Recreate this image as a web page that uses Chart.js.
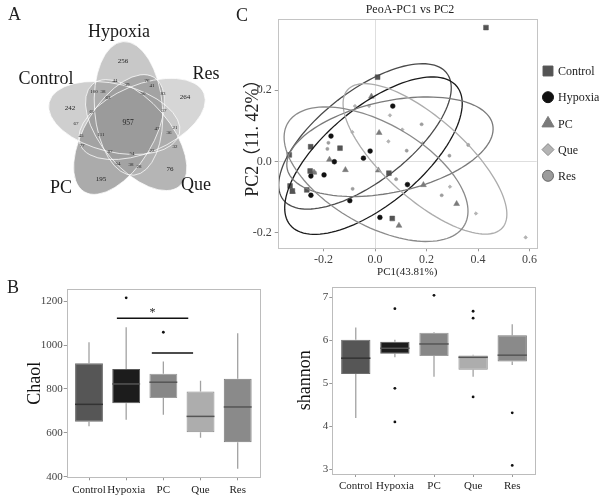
<!DOCTYPE html>
<html>
<head>
<meta charset="utf-8">
<script src="https://cdn.jsdelivr.net/npm/chart.js@4.4.0/dist/chart.umd.min.js"></script>
<style>
body { margin: 0; background: #fff; width: 599px; height: 499px; position: relative; overflow: hidden; }
canvas { position: absolute; }
.tag { position: absolute; font: 18px/18px "Liberation Serif", serif; color: #222; }
</style>
</head>
<body>
<canvas id="venn" width="240" height="262" style="left:0;top:0"></canvas>
<canvas id="pca" width="359" height="290" style="left:240px;top:0"></canvas>
<canvas id="chao" width="290" height="229" style="left:0;top:270px"></canvas>
<canvas id="shan" width="309" height="229" style="left:290px;top:270px"></canvas>
<div class="tag" style="left:8px;top:5px">A</div>
<div class="tag" style="left:236px;top:6px">C</div>
<div class="tag" style="left:7px;top:278px">B</div>
<script>
var SERIF = '"Liberation Serif", "Noto Sans CJK SC", serif';
Chart.defaults.font.family = SERIF;
Chart.defaults.color = '#444';

// ---- A: venn counts ----
var vennSets = ['Hypoxia', 'Res', 'Que', 'PC', 'Control'];
var vennSingles = [256, 264, 76, 195, 242];
var vennShared = [957, 44, 76, 100, 38, 39, 41, 63, 50, 83, 60, 37, 67, 47, 21, 111, 45, 36, 77, 32, 87, 54, 22, 54, 38, 28];

// ---- C: PCoA points ----
var pcaGroups = ['Control', 'Hypoxia', 'PC', 'Que', 'Res'];
var controlPts = [[0.431, 0.375], [0.010, 0.236], [-0.333, 0.018], [-0.250, 0.041], [-0.136, 0.037], [-0.252, -0.027],
  [-0.330, -0.069], [-0.321, -0.083], [-0.265, -0.080], [0.054, -0.033], [0.067, -0.160]];
var hypoxiaPts = [[0.069, 0.155], [-0.171, 0.071], [-0.019, 0.029], [-0.158, -0.001], [-0.045, 0.009], [-0.198, -0.038],
  [-0.249, -0.041], [-0.249, -0.095], [-0.098, -0.110], [0.019, -0.157], [0.126, -0.065]];
var pcPts = [[-0.014, 0.182], [0.016, 0.080], [-0.177, 0.005], [-0.237, -0.031], [-0.115, -0.024], [0.013, -0.025],
  [0.188, -0.066], [0.317, -0.119], [0.093, -0.180], [-0.320, -0.085]];
var quePts = [[-0.078, 0.155], [-0.023, 0.155], [0.058, 0.129], [0.106, 0.089], [0.052, 0.056], [0.185, 0.051],
  [0.291, -0.071], [0.392, -0.146], [0.585, -0.213], [-0.088, 0.082]];
var resPts = [[0.181, 0.104], [0.123, 0.030], [0.362, 0.046], [0.289, 0.016], [0.259, -0.095], [0.082, -0.050],
  [-0.087, -0.077], [-0.181, 0.052], [-0.185, 0.035], [-0.233, -0.031]];
// confidence ellipses: centre and two conjugate half axes (data units)
var ellipseCenter = [[-0.039, 0.070], [-0.006, 0.016], [0.058, 0.041], [0.194, 0.007], [0.004, -0.036]];
var ellipseAxisA = [[0.318, 0.177], [0.324, 0.194], [0.399, 0.062], [0.301, -0.193], [0.344, -0.142]];
var ellipseAxisB = [[0.106, -0.101], [0.118, -0.105], [0.037, -0.125], [-0.103, -0.085], [-0.096, -0.124]];

// ---- B: boxplots ----
var groups = ['Control', 'Hypoxia', 'PC', 'Que', 'Res'];
var chaoLow = [630, 660, 682, 577, 436];
var chaoQ1 = [650, 735, 759, 603, 557];
var chaoMed = [730, 823, 831, 675, 718];
var chaoQ3 = [918, 891, 870, 789, 847];
var chaoHigh = [1013, 1082, 925, 838, 1054];
var chaoOut = [[], [1216], [1059], [], []];
var sigFrom = [1.75, 2.69];
var sigTo = [3.67, 3.8];
var sigLevel = [1123, 964];
var sigText = ['*', ''];

var shanLow = [4.19, 5.60, 5.15, 5.15, 5.42];
var shanQ1 = [5.21, 5.68, 5.63, 5.31, 5.50];
var shanMed = [5.58, 5.81, 5.91, 5.60, 5.65];
var shanQ3 = [6.01, 5.96, 6.17, 5.64, 6.11];
var shanHigh = [6.29, 6.01, 6.19, 5.66, 6.37];
var shanOut = [[], [6.73, 4.88, 4.10], [7.04], [6.67, 6.51, 4.68], [4.31, 3.09]];

var boxFill = ['#565656', '#1c1c1c', '#878787', '#adadad', '#8a8a8a'];
var boxLine = ['#6e6e6e', '#5a5a5a', '#9c9c9c', '#8c8c8c', '#7a7a7a'];
var boxMedian = ['#333', '#555', '#555', '#555', '#555'];

// ================= Venn =================
var vennGeom = { cx: 128, cy: 123, shift: 14.6, a: 67, b: 34 };
var vennRot = [-88, -16, 56, 128, 200];
var vennTilt = -6.6;
var vennShade = ['#cdcdcd', '#dcdcdc', '#bababa', '#afafaf', '#d4d4d4'];
var vennNamePos = [[119, 32], [206, 74], [196, 185], [61, 188], [46, 79]];
var vennSinglePos = [[123, 61], [185, 97], [170, 169], [101, 179], [70, 108]];
var vennSharedPos = [[128, 123], [115, 81], [147, 81], [94, 92], [103, 92], [127, 85], [152, 86], [108, 98], [143, 94],
  [163, 94], [92, 112], [164, 111], [76, 124], [157, 129], [175, 128], [101, 135], [81, 136], [169, 133], [82, 146],
  [175, 147], [110, 152], [132, 154], [152, 151], [118, 164], [131, 165], [139, 167]];

var vennPlugin = {
  id: 'venn',
  afterDatasetsDraw: function(chart) {
    var ctx = chart.ctx, x = chart.scales.x, y = chart.scales.y;
    var g = vennGeom;
    function path(k) {
      var phi = vennRot[k] * Math.PI / 180;
      var ex = x.getPixelForValue(g.cx + g.shift * Math.cos(phi));
      var ey = y.getPixelForValue(g.cy + g.shift * Math.sin(phi));
      ctx.beginPath();
      ctx.ellipse(ex, ey, g.a, g.b, phi + vennTilt * Math.PI / 180, 0, Math.PI * 2);
    }
    ctx.save();
    ctx.globalCompositeOperation = 'darken';
    vennSets.forEach(function(s, k) { path(k); ctx.fillStyle = vennShade[k]; ctx.fill(); });
    ctx.globalCompositeOperation = 'multiply';
    vennSets.forEach(function(s, k) { path(k); ctx.fillStyle = '#f9f9f9'; ctx.fill(); });
    ctx.globalCompositeOperation = 'source-over';
    ctx.strokeStyle = 'rgba(255,255,255,0.85)';
    ctx.lineWidth = 0.9;
    vennSets.forEach(function(s, k) { path(k); ctx.stroke(); });

    ctx.textAlign = 'center';
    ctx.textBaseline = 'middle';
    ctx.fillStyle = '#222';
    ctx.font = '7px ' + SERIF;
    vennSingles.forEach(function(v, k) {
      ctx.fillText(v, x.getPixelForValue(vennSinglePos[k][0]), y.getPixelForValue(vennSinglePos[k][1]));
    });
    vennShared.forEach(function(v, k) {
      ctx.font = (k === 0 ? '7.5px ' : '5px ') + SERIF;
      ctx.fillText(v, x.getPixelForValue(vennSharedPos[k][0]), y.getPixelForValue(vennSharedPos[k][1]));
    });
    ctx.font = '18px ' + SERIF;
    ctx.fillStyle = '#1a1a1a';
    vennSets.forEach(function(s, k) {
      ctx.fillText(s, x.getPixelForValue(vennNamePos[k][0]), y.getPixelForValue(vennNamePos[k][1]));
    });
    ctx.restore();
  }
};

new Chart(document.getElementById('venn'), {
  type: 'scatter',
  data: { datasets: [{ data: [], pointRadius: 0 }] },
  options: {
    responsive: false, animation: false, events: [],
    layout: { padding: 0 },
    scales: {
      x: { display: false, min: 0, max: 240 },
      y: { display: false, min: 0, max: 262, reverse: true }
    },
    plugins: { legend: { display: false }, tooltip: { enabled: false } }
  },
  plugins: [vennPlugin]
});

// ================= PCoA =================
var pcaStyle = [
  { pts: controlPts, shape: 'rect', r: 3.4, fill: '#545454', border: '#545454', ring: '#4a4a4a', lr: 7 },
  { pts: hypoxiaPts, shape: 'circle', r: 2.4, fill: '#111', border: '#111', ring: '#1a1a1a', lr: 5.5 },
  { pts: pcPts, shape: 'triangle', r: 3.4, fill: '#7a7a7a', border: '#7a7a7a', ring: '#7a7a7a', lr: 7 },
  { pts: quePts, shape: 'rectRot', r: 1.8, fill: '#b4b4b4', border: '#a0a0a0', ring: '#acacac', lr: 6 },
  { pts: resPts, shape: 'circle', r: 1.6, fill: '#9c9c9c', border: '#9c9c9c', ring: '#8a8a8a', lr: 5.5 }
];

var pcaPlugin = {
  id: 'pcaExtra',
  afterDatasetsDraw: function(chart) {
    var ctx = chart.ctx, x = chart.scales.x, y = chart.scales.y, ca = chart.chartArea;
    ctx.save();
    // ellipses
    ctx.lineWidth = 1.3;
    ellipseCenter.forEach(function(c, k) {
      ctx.beginPath();
      for (var i = 0; i <= 120; i++) {
        var t = i / 120 * Math.PI * 2;
        var vx = c[0] + Math.cos(t) * ellipseAxisA[k][0] + Math.sin(t) * ellipseAxisB[k][0];
        var vy = c[1] + Math.cos(t) * ellipseAxisA[k][1] + Math.sin(t) * ellipseAxisB[k][1];
        var px = x.getPixelForValue(vx), py = y.getPixelForValue(vy);
        if (i === 0) ctx.moveTo(px, py); else ctx.lineTo(px, py);
      }
      ctx.strokeStyle = pcaStyle[k].ring;
      ctx.stroke();
    });
    // frame
    ctx.strokeStyle = '#c4c4c4';
    ctx.lineWidth = 1;
    ctx.strokeRect(Math.round(ca.left) + 0.5, Math.round(ca.top) + 0.5, Math.round(ca.width), Math.round(ca.height));
    // title
    ctx.fillStyle = '#222';
    ctx.font = '12px ' + SERIF;
    ctx.textAlign = 'center';
    ctx.textBaseline = 'middle';
    ctx.fillText('PeoA-PC1 vs PC2', 170, 10);
    // legend
    ctx.textAlign = 'left';
    ctx.font = '12px ' + SERIF;
    chart.data.datasets.forEach(function(ds, k) {
      var ly = 71 + k * 26.2;
      var st = pcaStyle[k];
      ctx.fillStyle = st.fill;
      ctx.strokeStyle = k === 3 ? '#8a8a8a' : (k === 4 ? '#666' : st.fill);
      ctx.lineWidth = 1;
      Chart.helpers.drawPoint(ctx, { pointStyle: st.shape, radius: st.lr, rotation: 0, borderWidth: 1 }, 308, ly);
      ctx.fillStyle = '#222';
      ctx.fillText(ds.label, 318, ly + 1);
    });
    ctx.restore();
  }
};

new Chart(document.getElementById('pca'), {
  type: 'scatter',
  data: {
    datasets: pcaGroups.map(function(name, k) {
      var st = pcaStyle[k];
      return {
        label: name,
        data: st.pts.map(function(p) { return { x: p[0], y: p[1] }; }),
        pointStyle: st.shape, pointRadius: st.r,
        backgroundColor: st.fill, borderColor: st.border, borderWidth: 0.5
      };
    })
  },
  options: {
    responsive: false, animation: false, events: [],
    layout: { padding: { left: 0, right: 62.3, top: 19, bottom: 0 } },
    scales: {
      x: {
        type: 'linear', min: -0.378, max: 0.628,
        afterFit: function(s) { s.height = 41.7; },
        ticks: { stepSize: 0.2, includeBounds: false, padding: 1, color: '#444', font: { size: 12 },
          callback: function(v) { return v.toFixed(1); } },
        grid: { color: function(c) { return c.tick && Math.abs(c.tick.value) < 1e-9 ? '#dedede' : 'rgba(0,0,0,0)'; },
          tickColor: '#999', tickLength: 3 },
        border: { display: false },
        title: { display: true, text: 'PC1(43.81%)', color: '#222', font: { size: 11 }, padding: { top: 0, bottom: 11.4 } }
      },
      y: {
        type: 'linear', min: -0.2436, max: 0.399,
        afterFit: function(s) { s.width = 37.7; },
        ticks: { stepSize: 0.2, includeBounds: false, padding: 3, color: '#444', font: { size: 12 },
          callback: function(v) { return v.toFixed(1); } },
        grid: { color: function(c) { return c.tick && Math.abs(c.tick.value) < 1e-9 ? '#dedede' : 'rgba(0,0,0,0)'; },
          tickColor: '#999', tickLength: 3 },
        border: { display: false },
        title: { display: true, text: 'PC2（11. 42%）', color: '#222', font: { size: 18 }, padding: { top: 2.2, bottom: 0 } }
      }
    },
    plugins: { legend: { display: false }, tooltip: { enabled: false } }
  },
  plugins: [pcaPlugin]
});

// ================= boxplots =================
function makeBox(id, stats, yr, geom) {
  var boxPlugin = {
    id: 'box_' + id,
    beforeDatasetsDraw: function(chart) {
      var ctx = chart.ctx, x = chart.scales.x, y = chart.scales.y;
      ctx.save();
      ctx.lineWidth = 1.3;
      ctx.strokeStyle = '#a2a2a2';
      groups.forEach(function(g, i) {
        var px = x.getPixelForValue(i + 1);
        ctx.beginPath();
        ctx.moveTo(px, y.getPixelForValue(stats.low[i]));
        ctx.lineTo(px, y.getPixelForValue(stats.q1[i]));
        ctx.moveTo(px, y.getPixelForValue(stats.q3[i]));
        ctx.lineTo(px, y.getPixelForValue(stats.high[i]));
        ctx.stroke();
      });
      ctx.restore();
    },
    afterDatasetsDraw: function(chart) {
      var ctx = chart.ctx, x = chart.scales.x, y = chart.scales.y, ca = chart.chartArea;
      var meta = chart.getDatasetMeta(0);
      ctx.save();
      ctx.lineWidth = 1.5;
      meta.data.forEach(function(bar, i) {
        var py = y.getPixelForValue(stats.med[i]);
        ctx.strokeStyle = boxMedian[i];
        ctx.beginPath();
        ctx.moveTo(bar.x - bar.width / 2, py);
        ctx.lineTo(bar.x + bar.width / 2, py);
        ctx.stroke();
      });
      if (stats.sig) {
        ctx.strokeStyle = '#111';
        ctx.fillStyle = '#222';
        ctx.lineWidth = 1.5;
        ctx.font = '12px ' + SERIF;
        ctx.textAlign = 'center';
        ctx.textBaseline = 'middle';
        stats.sig.from.forEach(function(f, k) {
          var py = y.getPixelForValue(stats.sig.level[k]);
          var x0 = x.getPixelForValue(f), x1 = x.getPixelForValue(stats.sig.to[k]);
          ctx.beginPath(); ctx.moveTo(x0, py); ctx.lineTo(x1, py); ctx.stroke();
          if (stats.sig.text[k]) ctx.fillText(stats.sig.text[k], (x0 + x1) / 2, py - 5);
        });
      }
      ctx.strokeStyle = '#bcbcbc';
      ctx.lineWidth = 1;
      ctx.strokeRect(Math.round(ca.left) + 0.5, Math.round(ca.top) + 0.5, Math.round(ca.width), Math.round(ca.height));
      ctx.restore();
    }
  };
  var outliers = [];
  stats.out.forEach(function(list, i) {
    list.forEach(function(v) { outliers.push({ x: i + 1, y: v }); });
  });
  return new Chart(document.getElementById(id), {
    type: 'bar',
    data: {
      datasets: [{
        data: groups.map(function(g, i) { return { x: i + 1, y: [stats.q1[i], stats.q3[i]] }; }),
        backgroundColor: boxFill, borderColor: boxLine, borderWidth: 1, borderSkipped: false,
        barPercentage: 0.75, categoryPercentage: 1
      }, {
        type: 'scatter', data: outliers, pointRadius: 1.4, backgroundColor: '#111', borderWidth: 0
      }]
    },
    options: {
      responsive: false, animation: false, events: [],
      layout: { padding: { left: 0, right: geom.right, top: geom.top, bottom: 0 } },
      scales: {
        x: {
          type: 'linear', min: 0.4, max: 5.6, offset: false,
          afterFit: function(s) { s.height = geom.xh; },
          ticks: { stepSize: 1, includeBounds: false, autoSkip: false, maxRotation: 0, minRotation: 0, padding: 3,
            color: '#222', font: { size: 11 },
            callback: function(v) { return groups[Math.round(v) - 1]; } },
          grid: { offset: false, drawOnChartArea: false, tickColor: '#999', tickLength: 3 },
          border: { display: false }
        },
        y: {
          type: 'linear', min: yr[0], max: yr[1],
          afterFit: function(s) { s.width = geom.yw; },
          ticks: { stepSize: yr[2], includeBounds: false, padding: 1, color: '#444', font: { size: 11 },
            callback: function(v) { return String(v); } },
          grid: { drawOnChartArea: false, tickColor: '#999', tickLength: 3 },
          border: { display: false },
          title: { display: true, text: stats.title, color: '#111', font: { size: 18 }, padding: { top: geom.tp, bottom: 0 } }
        }
      },
      plugins: { legend: { display: false }, tooltip: { enabled: false } }
    },
    plugins: [boxPlugin]
  });
}

makeBox('chao', {
  title: 'Chaol', low: chaoLow, q1: chaoQ1, med: chaoMed, q3: chaoQ3, high: chaoHigh, out: chaoOut,
  sig: { from: sigFrom, to: sigTo, level: sigLevel, text: sigText }
}, [397, 1255, 200], { right: 30, top: 19.3, xh: 21.7, yw: 66.7, tp: 24.2 });

makeBox('shan', {
  title: 'shannon', low: shanLow, q1: shanQ1, med: shanMed, q3: shanQ3, high: shanHigh, out: shanOut
}, [2.89, 7.24, 1], { right: 63.3, top: 16.7, xh: 25, yw: 42.3, tp: 4.2 });
</script>
</body>
</html>
